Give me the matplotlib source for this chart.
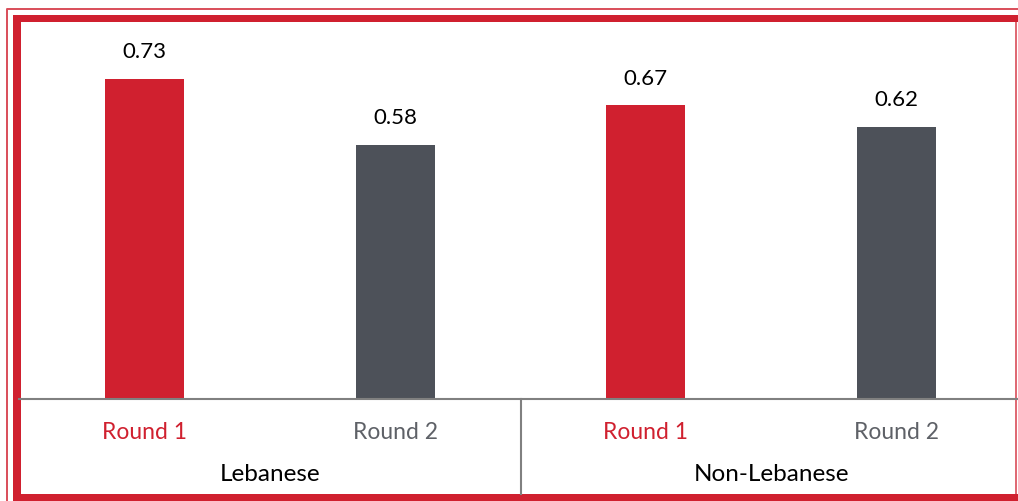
import matplotlib.pyplot as plt
from matplotlib.patches import Rectangle

groups = ["Lebanese", "Non-Lebanese"]
rounds = ["Round 1", "Round 2"]
values = [0.73, 0.58, 0.67, 0.62]

red = "#D0202F"
dark = "#4D5159"
label_grey = "#5E6167"
rule_grey = "#808080"

plt.rcParams["font.family"] = ["Lato", "DejaVu Sans"]

fig = plt.figure(figsize=(10.18, 5.02), dpi=100)

# frame drawn in pixel units on a full-figure overlay
frame = fig.add_axes([0, 0, 1, 1])
frame.set_xlim(0, 1018)
frame.set_ylim(502, 0)
frame.axis("off")
frame.plot([7, 7, 1018], [502, 10, 10], color=red, lw=1.4, alpha=0.8, solid_capstyle="butt")
frame.add_patch(Rectangle((13, 16), 1005, 7, color=red, lw=0))
frame.add_patch(Rectangle((13, 16), 8, 486, color=red, lw=0))
frame.add_patch(Rectangle((13, 495), 1005, 7, color=red, lw=0))
frame.plot([1016, 1016], [23, 495], color=red, lw=1.2, alpha=0.8)

ax = fig.add_axes([19 / 1018, 102 / 502, 1003 / 1018, 377 / 502])
ax.patch.set_alpha(0)

x = list(range(len(values)))
colors = [red, dark] * len(groups)
bars = ax.bar(x, values, width=0.315, color=colors, zorder=2)
for xi, v in zip(x, values):
    ax.annotate(f"{v:.2f}", (xi, v), xytext=(0, 20), textcoords="offset points",
                ha="center", va="center", fontsize=16, color="black")

ax.set_xlim(-0.5, 3.5)
ax.set_ylim(0, 0.86)
for side in ["top", "left", "right"]:
    ax.spines[side].set_visible(False)
ax.spines["bottom"].set_color(rule_grey)
ax.spines["bottom"].set_linewidth(1.5)
ax.set_xticks([])
ax.set_yticks([])

# category table under the bars
ax.plot([1.5, 1.5], [0, -0.217], color=rule_grey, lw=1.5, clip_on=False)
for xi in x:
    name = rounds[xi % 2]
    ax.text(xi, -0.075, name, ha="center", va="center", fontsize=16.5,
            color=red if xi % 2 == 0 else label_grey)
for gi, g in enumerate(groups):
    ax.text(gi * 2 + 0.5, -0.17, g, ha="center", va="center", fontsize=17.5, color="black")

fig.savefig("out.png", dpi=100)
